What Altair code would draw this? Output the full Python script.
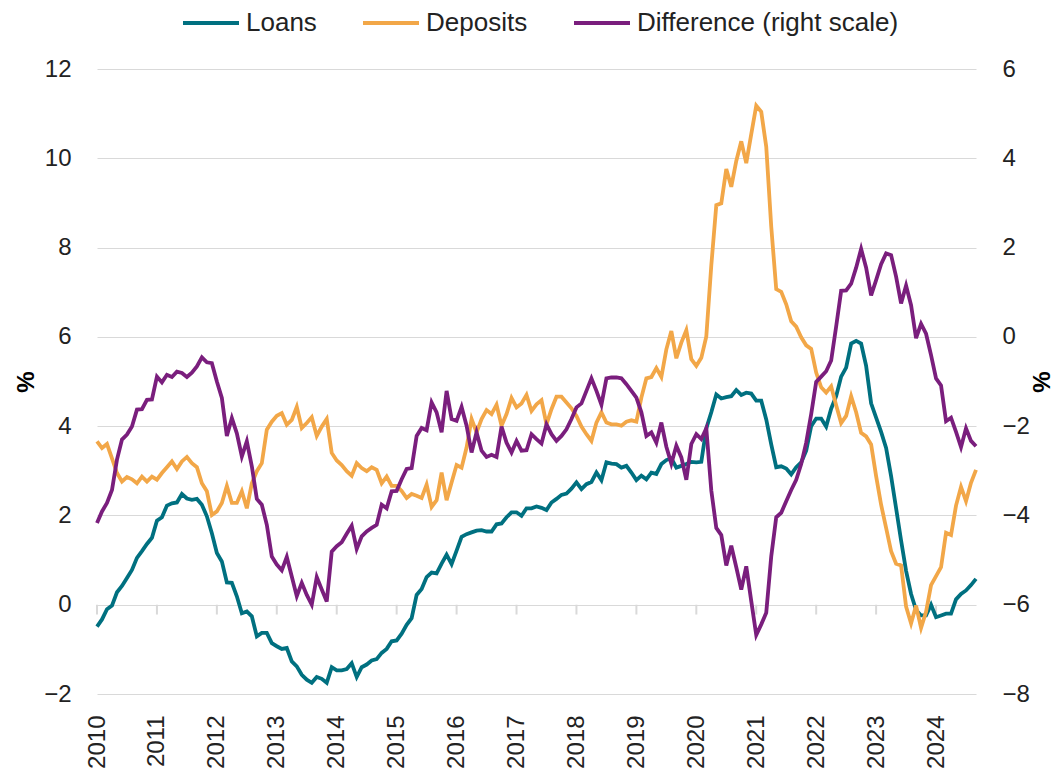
import altair as alt
import pandas as pd

# Monthly data, Jan 2010 - Sep 2024 (annual growth, %)
loans = [
    -0.49, -0.33, -0.10, -0.02, 0.28, 0.42, 0.60, 0.78, 1.05, 1.20, 1.36, 1.50,
    1.88, 1.96, 2.22, 2.27, 2.29, 2.48, 2.38, 2.35, 2.37, 2.24, 1.98, 1.60,
    1.16, 0.97, 0.50, 0.49, 0.19, -0.19, -0.15, -0.26, -0.71, -0.63, -0.63, -0.86,
    -0.93, -0.99, -0.97, -1.27, -1.38, -1.57, -1.68, -1.75, -1.62, -1.66, -1.75, -1.40,
    -1.47, -1.47, -1.44, -1.31, -1.62, -1.40, -1.34, -1.25, -1.22, -1.08, -0.99, -0.82,
    -0.80, -0.65, -0.45, -0.30, 0.22, 0.35, 0.62, 0.72, 0.70, 0.92, 1.12, 0.91,
    1.21, 1.52, 1.58, 1.62, 1.66, 1.67, 1.64, 1.64, 1.80, 1.82, 1.96, 2.07,
    2.07, 1.99, 2.16, 2.16, 2.20, 2.17, 2.12, 2.29, 2.37, 2.46, 2.49, 2.60,
    2.74, 2.59, 2.70, 2.75, 2.96, 2.79, 3.19, 3.16, 3.15, 3.07, 3.11, 2.96,
    2.79, 2.89, 2.81, 2.96, 2.93, 3.15, 3.24, 3.28, 3.07, 3.11, 3.15, 3.20,
    3.19, 3.20, 3.95, 4.31, 4.71, 4.62, 4.65, 4.67, 4.81, 4.70, 4.75, 4.73,
    4.57, 4.57, 4.15, 3.59, 3.08, 3.10, 3.05, 2.92, 3.08, 3.19, 3.45, 4.00,
    4.17, 4.17, 3.99, 4.39, 4.67, 5.11, 5.31, 5.85, 5.91, 5.85, 5.35, 4.51,
    4.19, 3.87, 3.51, 2.88, 2.16, 1.44, 0.76, 0.24, -0.12, -0.24, -0.24, 0.00,
    -0.28, -0.24, -0.20, -0.20, 0.12, 0.24, 0.32, 0.44, 0.58,
]
deposits = [
    3.66, 3.51, 3.60, 3.28, 2.95, 2.76, 2.86, 2.81, 2.72, 2.87, 2.76, 2.87,
    2.80, 2.95, 3.08, 3.21, 3.04, 3.21, 3.31, 3.17, 3.08, 2.72, 2.54, 2.01,
    2.09, 2.28, 2.66, 2.28, 2.28, 2.54, 2.16, 2.72, 2.99, 3.17, 3.92, 4.10,
    4.23, 4.29, 4.03, 4.14, 4.43, 3.96, 4.07, 4.20, 3.78, 3.99, 4.16, 3.40,
    3.23, 3.13, 2.99, 2.89, 3.17, 3.06, 2.99, 3.08, 3.02, 2.72, 2.87, 2.66,
    2.66, 2.55, 2.39, 2.48, 2.44, 2.39, 2.69, 2.19, 2.34, 2.96, 2.34, 2.74,
    3.13, 3.07, 3.52, 4.16, 3.86, 4.16, 4.36, 4.27, 4.48, 4.01, 4.27, 4.63,
    4.42, 4.51, 4.70, 4.34, 4.49, 4.58, 4.04, 4.38, 4.66, 4.66, 4.53, 4.40,
    4.23, 3.99, 3.82, 3.67, 4.08, 4.31, 4.08, 4.04, 4.04, 4.01, 4.10, 4.13,
    4.10, 4.64, 5.07, 5.10, 5.30, 5.10, 5.72, 6.13, 5.52, 5.87, 6.15, 5.50,
    5.35, 5.53, 6.01, 7.60, 8.95, 8.99, 9.76, 9.36, 9.94, 10.38, 9.89, 10.54,
    11.18, 11.04, 10.26, 8.47, 7.07, 7.01, 6.73, 6.35, 6.23, 5.99, 5.81, 5.73,
    5.20, 4.87, 4.75, 4.89, 4.47, 4.07, 4.23, 4.67, 4.31, 3.85, 3.77, 3.59,
    2.88, 2.24, 1.72, 1.20, 0.92, 0.88, -0.04, -0.42, -0.02, -0.52, -0.16, 0.44,
    0.64, 0.84, 1.61, 1.56, 2.22, 2.64, 2.32, 2.73, 3.02,
]
difference = [
    -4.17, -3.91, -3.72, -3.43, -2.75, -2.30, -2.19, -2.01, -1.63, -1.62, -1.41, -1.40,
    -0.89, -1.02, -0.85, -0.90, -0.78, -0.81, -0.90, -0.80, -0.66, -0.46, -0.57, -0.59,
    -1.00, -1.37, -2.22, -1.82, -2.16, -2.68, -2.34, -2.90, -3.63, -3.76, -4.21, -4.92,
    -5.10, -5.23, -4.93, -5.37, -5.81, -5.51, -5.78, -6.00, -5.38, -5.66, -5.93, -4.81,
    -4.69, -4.60, -4.41, -4.23, -4.75, -4.47, -4.36, -4.28, -4.21, -3.76, -3.84, -3.46,
    -3.45, -3.19, -2.96, -2.94, -2.22, -2.04, -2.09, -1.47, -1.69, -2.14, -1.21, -1.84,
    -1.88, -1.57, -1.99, -2.59, -2.14, -2.55, -2.69, -2.64, -2.69, -2.01, -2.37, -2.59,
    -2.33, -2.55, -2.54, -2.18, -2.29, -2.39, -1.96, -2.18, -2.33, -2.22, -2.07, -1.84,
    -1.58, -1.49, -1.21, -0.93, -1.21, -1.52, -0.93, -0.91, -0.91, -0.93, -1.06, -1.21,
    -1.36, -1.69, -2.22, -2.14, -2.37, -1.92, -2.46, -2.84, -2.44, -2.70, -3.20, -2.40,
    -2.18, -2.29, -2.05, -3.44, -4.28, -4.44, -5.12, -4.68, -5.16, -5.66, -5.14, -5.92,
    -6.68, -6.44, -6.18, -4.92, -4.04, -3.94, -3.68, -3.43, -3.20, -2.85, -2.37, -1.73,
    -1.01, -0.89, -0.77, -0.53, 0.23, 1.03, 1.04, 1.19, 1.55, 1.97, 1.55, 0.93,
    1.27, 1.63, 1.87, 1.83, 1.35, 0.75, 1.15, 0.71, -0.03, 0.29, 0.07, -0.41,
    -0.93, -1.09, -1.89, -1.81, -2.13, -2.47, -2.05, -2.33, -2.45,
]

series_names = ["Loans", "Deposits", "Difference (right scale)"]
series_colors = ["#007080", "#f2a748", "#7a1e7d"]
year_ticks = list(range(2010, 2025))
left_ticks = list(range(-2, 13, 2))
right_ticks = list(range(-8, 7, 2))

n = len(loans)
t = [2010 + i / 12 for i in range(n)]

rows = []
for i in range(n):
    rows.append({"t": t[i], "series": "Loans", "value": loans[i]})
    rows.append({"t": t[i], "series": "Deposits", "value": deposits[i]})
df_left = pd.DataFrame(rows)
df_right = pd.DataFrame({"t": t, "series": "Difference (right scale)", "value": difference})
df_ticks = pd.DataFrame({"t": year_ticks})

FONT = "Liberation Sans"
x_scale = alt.Scale(domain=[2010, t[-1]], nice=False, zero=False)
x_axis = alt.Axis(
    values=year_ticks, format="d", labelAngle=-90, labelAlign="right",
    labelBaseline="middle", ticks=False, tickSize=0, domain=False, grid=False,
    labelPadding=21, title=None, labelOverlap=False,
)
x_enc = alt.X("t:Q", scale=x_scale, axis=x_axis)

color_enc = alt.Color(
    "series:N",
    scale=alt.Scale(domain=series_names, range=series_colors),
    legend=alt.Legend(
        title=None, orient="none", legendX=84, legendY=-76, direction="horizontal",
        symbolType="stroke", symbolSize=3136, symbolStrokeWidth=4,
        labelFontSize=26, labelFont=FONT, labelColor="#222222", labelOffset=5,
        columnPadding=38, labelLimit=500,
    ),
)

left_lines = alt.Chart(df_left).mark_line(strokeWidth=3.8).encode(
    x=x_enc,
    y=alt.Y("value:Q", scale=alt.Scale(domain=[-2, 12], nice=False, zero=False),
            axis=alt.Axis(values=left_ticks, title="%", orient="left", ticks=False,
                          tickSize=0, domain=False, grid=True, labelPadding=26,
                          titlePadding=5, titleAngle=-90)),
    color=color_enc,
)

tick_marks = alt.Chart(df_ticks).mark_rule(color="#d9d9d9", strokeWidth=2).encode(
    x=x_enc,
    y=alt.datum(0),
    y2=alt.datum(-0.22),
)

left = alt.layer(tick_marks, left_lines)

right_line = alt.Chart(df_right).mark_line(strokeWidth=3.8).encode(
    x=x_enc,
    y=alt.Y("value:Q", scale=alt.Scale(domain=[-8, 6], nice=False, zero=False),
            axis=alt.Axis(values=right_ticks, title="%", orient="right", ticks=False,
                          tickSize=0, domain=False, grid=False, labelPadding=26,
                          titlePadding=25, titleAngle=-90)),
    color=color_enc,
)

chart = alt.layer(left, right_line).resolve_scale(y="independent").properties(
    width=879, height=625,
    padding={"left": 89, "top": 61, "right": 80, "bottom": 76},
    autosize=alt.AutoSizeParams(type="none"),
).configure_view(stroke=None).configure_axis(
    labelFont=FONT, labelFontSize=24, labelColor="#222222",
    titleFont=FONT, titleFontSize=24, titleFontWeight="bold", titleColor="#000000",
    gridColor="#d9d9d9", gridWidth=1.2,
)

chart.save("out.html", embed_options={"renderer": "svg", "actions": False})
